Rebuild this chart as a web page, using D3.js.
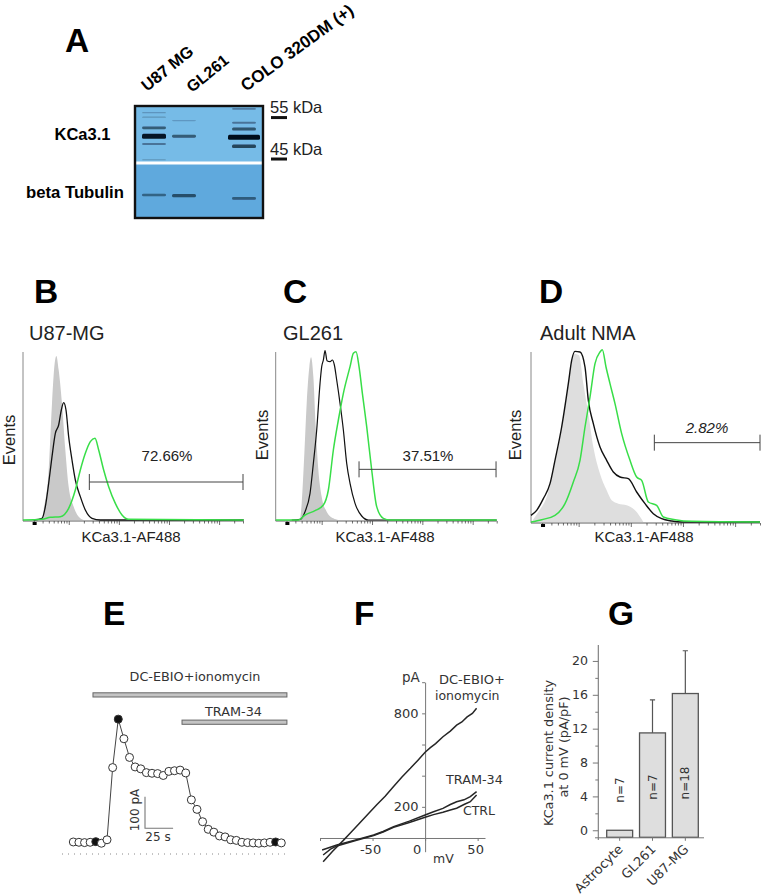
<!DOCTYPE html>
<html><head><meta charset="utf-8">
<script src="https://cdn.jsdelivr.net/npm/d3@7"></script>
<style>html,body{margin:0;background:#fff}svg{display:block}
text{font-family:"Liberation Sans",Arial,sans-serif;fill:#111}
.dv text,text.dv{font-family:"DejaVu Sans",Verdana,sans-serif;fill:#333}</style>
</head><body><div id="c"></div>
<script>
// ---- Panel A: western blot
const lanes = ["U87 MG","GL261","blank","COLO 320DM (+)"];
const laneLabels = ["U87 MG","GL261","COLO 320DM (+)"];
const kcaBands = [
 ["U87 MG",27,0.95],["U87 MG",19.5,0.5],["U87 MG",34,0.3],["U87 MG",10,0.1],["U87 MG",6,0.1],["U87 MG",48,0.1],
 ["GL261",27,0.5],["GL261",13,0.08],
 ["COLO 320DM (+)",28,1],["COLO 320DM (+)",20.5,0.55],["COLO 320DM (+)",15,0.3],["COLO 320DM (+)",36,0.65],["COLO 320DM (+)",2.5,0.25]];
const tubBands = [["U87 MG",79.5,0.4],["GL261",80,0.55],["COLO 320DM (+)",82.5,0.45]];
const mwMarkers = [["55 kDa",9],["45 kDa",46]];

// ---- Panels B, C, D: flow cytometry histograms (channel, events)
const grayB = [[57,0],[62,30],[77,150],[87,350],[95,470],[100,492],[107,450],[117,350],[127,210],[137,100],[152,40],[172,5],[182,0]];
const blackB = [[32,0],[57,5],[67,40],[77,110],[87,190],[97,260],[107,285],[115,330],[122,352],[129,330],[137,250],[147,180],[157,120],[172,70],[187,30],[207,5],[232,0],[662,0]];
const greenB = [[0,0],[57,2],[82,8],[112,10],[137,35],[157,90],[172,150],[187,200],[202,235],[216,245],[227,210],[242,150],[257,100],[277,50],[297,15],[317,2],[662,0]];
const grayC = [[73,0],[78,50],[86,200],[93,350],[101,460],[106,488],[113,430],[120,280],[128,150],[138,70],[153,25],[173,5],[188,0]];
const blackC = [[48,0],[73,2],[88,25],[103,80],[113,170],[123,270],[133,410],[138,460],[143,480],[148,508],[154,478],[163,475],[170,480],[176,465],[183,420],[193,350],[203,270],[213,170],[223,110],[238,50],[258,12],[278,0],[663,0]];
const greenC = [[0,0],[68,0],[88,15],[118,28],[143,45],[158,90],[173,210],[188,300],[203,380],[223,460],[233,500],[241,505],[250,460],[260,380],[273,280],[288,150],[303,40],[323,5],[343,0],[663,0]];
const grayD = [[5,5],[22,30],[47,75],[72,175],[97,315],[112,415],[122,475],[130,505],[144,500],[157,415],[172,325],[187,225],[207,145],[227,95],[242,65],[262,55],[287,50],[312,35],[337,0]];
const blackD = [[0,20],[17,35],[37,70],[57,115],[72,185],[92,285],[112,415],[122,485],[132,512],[147,510],[162,465],[172,365],[187,295],[207,225],[227,185],[247,150],[267,135],[292,130],[317,90],[342,55],[367,25],[392,10],[422,3],[452,0],[687,0]];
const greenD = [[0,0],[32,7],[72,20],[102,55],[127,120],[147,185],[162,285],[177,375],[192,475],[207,510],[214,517],[225,465],[237,415],[252,355],[272,265],[297,185],[317,135],[332,125],[352,60],[377,50],[397,15],[432,7],[482,2],[687,0]];
const histTitles = ["U87-MG","GL261","Adult NMA"];
const histGates = [[199,660,114,"72.66%"],[250,661,152,"37.51%"],[370,687,238,"2.82%"]];

// ---- Panel E: current vs time, one sample every 5 s
const timeS = [0,5,10,15,20,25,30,35,40,45,50,55,60,65,70,75,80,85,90,95,100,105,110,115,120,125,130,135,140,145,150,155,160,165,170,175,180,185];
const currentPA = [38,37,36,37,39,34,45,273,426,364,305,275,269,257,255,254,248,261,263,265,256,171,141,102,78,69,57,54,45,43,37,36,35,34,35,37,38,35];
const filledSamples = [20,40,180];
const drugBars = [["DC-EBIO+ionomycin",17.5,190],["TRAM-34",96.7,190]];

// ---- Panel F: I-V curves (mV, pA)
const ivDC = [[-97,-152],[-88,-85],[-78,-17],[-70,40],[-62,98],[-54,155],[-46,214],[-38,268],[-30,330],[-22,392],[-14,447],[-7,498],[0,550],[5,580],[10,606],[17,650],[24,686],[30,724],[35,745],[40,777],[45,800],[49,833]];
const ivTram = [[-98,-77],[-84,-45],[-66,-12],[-49,19],[-40,42],[-30,73],[-15,108],[0,148],[8,168],[17,190],[24,215],[30,233],[37,245],[43,266],[49,298]];
const ivCtrl = [[-97,-109],[-90,-72],[-84,-51],[-66,-16],[-49,15],[-40,38],[-30,68],[-15,100],[0,133],[8,150],[17,165],[24,180],[30,191],[37,215],[43,233],[49,276]];
const ivYTicks = [200,400,600,800,1000];
const ivYLabels = [200,800];
const ivXTicks = [-100,-50,0,50];
const ivXLabels = [-50,0,50];

// ---- Panel G: current density bars
const gCats = ["Astrocyte","GL261","U87-MG"];
const gMeans = [0,11.5,16.15];
const gErrTop = [null,15.4,21.2];
const gN = ["n=7","n=7","n=18"];
const gMajor = [0,4,8,12,16,20];
const gMinor = [2,6,10,14,18];

const svg = d3.select("#c").append("svg").attr("width",764).attr("height",895);
const defs = svg.append("defs");
defs.append("filter").attr("id","blur").attr("x","-20%").attr("y","-200%").attr("width","140%").attr("height","500%")
  .append("feGaussianBlur").attr("stdDeviation",0.6);
const letter = (t,x,y)=>svg.append("text").text(t).attr("x",x).attr("y",y).attr("font-size",33.5).attr("font-weight",700).style("fill","#000");
letter("A",65,52);letter("B",34,303);letter("C",283,303);letter("D",539,303);letter("E",103,625);letter("F",354,625);letter("G",608,625);

// Panel A
{
 const g = svg.append("g");
 const lx = d3.scalePoint().domain(lanes).range([154,244]);
 const my = d3.scaleLinear().domain([0,100]).range([106,218]);
 const bh = d3.scaleLinear().domain([0,1]).range([0.8,5]);
 const bo = d3.scaleLinear().domain([0,1]).range([0.12,1]);
 g.append("rect").attr("x",135).attr("y",my(0)).attr("width",128).attr("height",my(50)-my(0)).attr("fill","#76bbe7");
 g.append("rect").attr("x",135).attr("y",my(50)).attr("width",128).attr("height",my(100)-my(50)).attr("fill","#5fa9dd");
 const isMain = d=>d[0]===lanes[3]&&d[2]>0.9;
 const drawBands = (data)=>g.append("g").attr("filter","url(#blur)").selectAll("rect").data(data).join("rect")
   .attr("x",d=>lx(d[0])-(isMain(d)?16:12)).attr("width",d=>isMain(d)?32:24)
   .attr("y",d=>my(d[1])-bh(d[2])/2).attr("height",d=>bh(d[2])).attr("rx",1.5)
   .attr("fill","#06101e").attr("opacity",d=>bo(d[2]));
 drawBands(kcaBands);
 drawBands(tubBands);
 g.append("rect").attr("x",135).attr("y",161.5).attr("width",128).attr("height",3).attr("fill","#fff");
 g.append("rect").attr("x",135).attr("y",my(0)).attr("width",128).attr("height",my(100)-my(0)).attr("fill","none").attr("stroke","#111").attr("stroke-width",2.4);
 const starts = [[147,92],[192,93],[246,92]];
 laneLabels.forEach((t,i)=>g.append("text").text(t).attr("transform",`translate(${starts[i]}) rotate(${i==2?-36:-39})`).attr("font-size",[16.5,16,17][i]).attr("font-weight",700).style("fill","#000"));
 g.append("text").text("KCa3.1").attr("x",54.5).attr("y",140).attr("font-size",16.5).attr("font-weight",700).style("fill","#000");
 g.append("text").text("beta Tubulin").attr("x",26).attr("y",198).attr("font-size",16.7).attr("font-weight",700).style("fill","#000");
 mwMarkers.forEach(m=>{
  const y = my(m[1]);
  g.append("text").text(m[0]).attr("x",270).attr("y",y-3).attr("font-size",16.5).style("fill","#222");
  g.append("rect").attr("x",271).attr("y",y).attr("width",16).attr("height",3).attr("fill","#111");
 });
}

// Panels B-D
function hist(i,left,base,right,top,gray,black,green,grayFill,o){
 const g = svg.append("g");
 const x = d3.scaleLinear().domain([0,(right-left)*3]).range([left,right]);
 const y = d3.scaleLinear().domain([0,(base-top)*3]).range([base,top]);
 const area = d3.area().x(d=>x(d[0])).y0(y(0)).y1(d=>y(d[1])).curve(d3.curveMonotoneX);
 const line = d3.line().x(d=>x(d[0])).y(d=>y(d[1])).curve(d3.curveMonotoneX);
 g.append("path").attr("d",area(gray)).attr("fill",grayFill);
 // axes
 g.append("path").attr("d",d3.line()([[left,top],[left,base+1]])).attr("stroke","#888").attr("stroke-width",1).attr("fill","none");
 g.append("path").attr("d",d3.line()([[left,base+1],[right,base+1]])).attr("stroke","#333").attr("stroke-width",0.8);
 const lg = d3.scaleLog().domain([1.22,30000]).range([left,right]);
 const vals = lg.ticks().filter(v=>v>1.22);
 const ax = d3.axisBottom(lg).tickValues(vals).tickFormat("").tickSize(2.5).tickSizeOuter(0);
 const ag = g.append("g").attr("transform",`translate(0,${base+1})`).call(ax);
 ag.select(".domain").remove();
 ag.selectAll("line").attr("stroke","#333").attr("stroke-width",0.7)
   .filter(v=>Math.abs(Math.log10(v)%1)<1e-6).attr("y2",4);
 g.append("rect").attr("x",lg(1.9)).attr("y",base+2).attr("width",4).attr("height",3).attr("fill","#000");
 // curves
 g.append("path").attr("d",line(black)).attr("fill","none").attr("stroke","#111").attr("stroke-width",o.bw);
 g.append("path").attr("d",line(green)).attr("fill","none").attr("stroke","#38de48").attr("stroke-width",1.5);
 // gate
 const ge = histGates[i];
 g.append("path").attr("d",`M${x(ge[0])},${y(ge[2])-8}V${y(ge[2])+8}M${x(ge[0])},${y(ge[2])}H${x(ge[1])}M${x(ge[1])},${y(ge[2])-8}V${y(ge[2])+8}`)
   .attr("fill","none").attr("stroke","#444").attr("stroke-width",1);
 g.append("text").text(ge[3]).attr("x",o.gx).attr("y",y(ge[2])-[21,8.6,9.6][i]).attr("text-anchor","middle").attr("font-size",15).attr("font-style",i==2?"italic":"normal").style("fill","#222");
 g.append("text").text(histTitles[i]).attr("x",o.tx).attr("y",340).attr("font-size",20).style("fill","#222");
 g.append("text").text("Events").attr("transform",`translate(${o.ex},${o.ey}) rotate(-90)`).attr("text-anchor","middle").attr("font-size",16.5).style("fill","#222");
 g.append("text").text("KCa3.1-AF488").attr("x",o.lx).attr("y",542).attr("text-anchor","middle").attr("font-size",15).style("fill","#222");
}
hist(0,23,520,243,352,grayB,blackB,greenB,"#c9c9c9",{bw:1.3,gx:167,tx:29,ex:15,ey:440,lx:131});
hist(1,275.7,520,496.7,352,grayC,blackC,greenC,"#c9c9c9",{bw:1.2,gx:428,tx:283,ex:268,ey:435,lx:385});
hist(2,531,522,760,352,grayD,blackD,greenD,"#dedede",{bw:1.4,gx:707,tx:540,ex:521,ey:435,lx:644});

// Panel E
{
 const g = svg.append("g").attr("class","dv");
 const x = d3.scaleLinear().domain([0,185]).range([73.3,281.3]);
 const y = d3.scaleLinear().domain([0,500]).range([854,695.7]);
 const pts = timeS.map((t,i)=>[t,currentPA[i]]);
 g.append("line").attr("x1",62).attr("x2",288).attr("y1",y(0)).attr("y2",y(0)).attr("stroke","#888").attr("stroke-dasharray","1,5").attr("stroke-width",1);
 g.append("path").attr("d",d3.line().x(d=>x(d[0])).y(d=>y(d[1]))(pts)).attr("fill","none").attr("stroke","#444").attr("stroke-width",1);
 g.selectAll("circle").data(pts).join("circle").attr("cx",d=>x(d[0])).attr("cy",d=>y(d[1])).attr("r",4)
   .attr("fill",d=>filledSamples.includes(d[0])?"#111":"#fff").attr("stroke","#333").attr("stroke-width",1);
 const by = [695,722.3], ty=[680.7,716], tx=[195,233.5];
 drugBars.forEach((b,i)=>{
  g.append("rect").attr("x",x(b[1])).attr("y",by[i]-2.2).attr("width",x(b[2])-x(b[1])).attr("height",4.2).attr("fill","#c4c4c4").attr("stroke","#666").attr("stroke-width",1);
  g.append("text").text(b[0]).attr("x",tx[i]).attr("y",ty[i]).attr("text-anchor","middle").attr("font-size",12.8);
 });
 const sx=145, sy=828.3;
 g.append("path").attr("d",`M${sx},${sy-(y(0)-y(100))}V${sy}H${sx+(x(25)-x(0))}`).attr("fill","none").attr("stroke","#777").attr("stroke-width",1.1);
 g.append("text").text("100 pA").attr("transform",`translate(139,810) rotate(-90)`).attr("text-anchor","middle").attr("font-size",12);
 g.append("text").text("25 s").attr("x",158).attr("y",841).attr("text-anchor","middle").attr("font-size",12);
}

// Panel F
{
 const g = svg.append("g").attr("class","dv");
 const x = d3.scaleLinear().domain([-100,57]).range([320,485]);
 const y = d3.scaleLinear().domain([-88,1000]).range([851.7,682.2]);
 const ya = d3.axisLeft(y).tickValues(ivYTicks).tickFormat("").tickSize(3).tickSizeOuter(0);
 const xa = d3.axisBottom(x).tickValues(ivXTicks).tickFormat("").tickSize(3).tickSizeOuter(0);
 const yg = g.append("g").attr("transform",`translate(${x(0)},0)`).call(ya);
 const xg = g.append("g").attr("transform",`translate(0,${y(0)})`).call(xa);
 [yg,xg].forEach(a=>{a.select(".domain").attr("stroke","#777").attr("stroke-width",1);a.selectAll("line").attr("stroke","#777");});
 const line = d3.line().x(d=>x(d[0])).y(d=>y(d[1]));
 [ivDC,ivTram,ivCtrl].forEach(d=>g.append("path").attr("d",line(d)).attr("fill","none").attr("stroke","#262626").attr("stroke-width",1.5));
 ivYLabels.forEach(v=>g.append("text").text(v).attr("x",418.5).attr("y",y(v)+4.5).attr("text-anchor","end").attr("font-size",13));
 ivXLabels.forEach(v=>g.append("text").text(v).attr("x",v===0?x(0)-8:x(v)-2).attr("y",854).attr("text-anchor","middle").attr("font-size",13));
 const lab=(t,a,b,s)=>g.append("text").text(t).attr("x",a).attr("y",b).attr("font-size",s||12.5);
 lab("pA",402,681.5,13.5);lab("mV",433,863,12.5);
 lab("DC-EBIO+",439,684,13);lab("ionomycin",435,700);lab("TRAM-34",446,784,12.8);lab("CTRL",463,815);
}

// Panel G
{
 const g = svg.append("g").attr("class","dv");
 const x = d3.scaleBand().domain(gCats).range([606.7,698.3]).paddingInner(0.21);
 const y = d3.scaleLinear().domain([-0.83,22]).range([837.3,644]);
 const bars = gCats.map((c,i)=>({c,m:gMeans[i],e:gErrTop[i],n:gN[i]}));
 const err = bars.filter(b=>b.e!==null);
 g.selectAll("path.e").data(err).join("path").attr("class","e")
   .attr("d",b=>{const c=x(b.c)+x.bandwidth()/2;return `M${c},${y(b.m)}V${y(b.e)}M${c-2.6},${y(b.e)}H${c+2.6}`;})
   .attr("fill","none").attr("stroke","#555").attr("stroke-width",1.2);
 g.selectAll("rect").data(bars).join("rect").attr("x",b=>x(b.c)).attr("width",x.bandwidth())
   .attr("y",b=>y(b.m)).attr("height",b=>y(-0.83)-y(b.m)).attr("fill","#dedede").attr("stroke","#555").attr("stroke-width",1.3);
 const ya = d3.axisLeft(y).tickValues(gMajor).tickFormat("").tickSize(5.5).tickSizeOuter(0);
 const yb = d3.axisLeft(y).tickValues(gMinor).tickFormat("").tickSize(3).tickSizeOuter(0);
 const xa = d3.axisBottom(x).tickFormat("").tickSize(3.5).tickSizeOuter(0);
 const a1=g.append("g").attr("transform","translate(598.3,0)").call(ya);
 const a2=g.append("g").attr("transform","translate(598.3,0)").call(yb);
 const a3=g.append("g").attr("transform","translate(0,837.3)").call(xa);
 a1.select(".domain").remove();
 a2.select(".domain").remove();
 a3.select(".domain").attr("d","M595,0.5H704");
 g.append("line").attr("x1",598.3).attr("x2",598.3).attr("y1",645).attr("y2",840).attr("stroke","#777").attr("stroke-width",1.1);
 [a1,a2,a3].forEach(a=>{a.selectAll("line").attr("stroke","#777");a.selectAll(".domain").attr("stroke","#777");});
 gMajor.forEach(v=>g.append("text").text(v).attr("x",588).attr("y",y(v)+4.5).attr("text-anchor","end").attr("font-size",12.6));
 g.selectAll("text.n").data(bars).join("text").attr("class","n").text(b=>b.n)
   .attr("transform",(b,i)=>`translate(${x(b.c)+x.bandwidth()/2+4},${[790,787,783][i]}) rotate(-90)`).attr("text-anchor","middle").attr("font-size",12);
 g.selectAll("text.c").data(bars).join("text").attr("class","c").text(b=>b.c)
   .attr("transform",b=>`translate(${x(b.c)+x.bandwidth()/2+4},${850}) rotate(-45)`).attr("text-anchor","end").attr("font-size",13);
 g.append("text").text("KCa3.1 current density").attr("transform","translate(553,753) rotate(-90)").attr("text-anchor","middle").attr("font-size",12.8);
 g.append("text").text("at 0 mV (pA/pF)").attr("transform","translate(568,747) rotate(-90)").attr("text-anchor","middle").attr("font-size",12.8);
}
</script></body></html>
